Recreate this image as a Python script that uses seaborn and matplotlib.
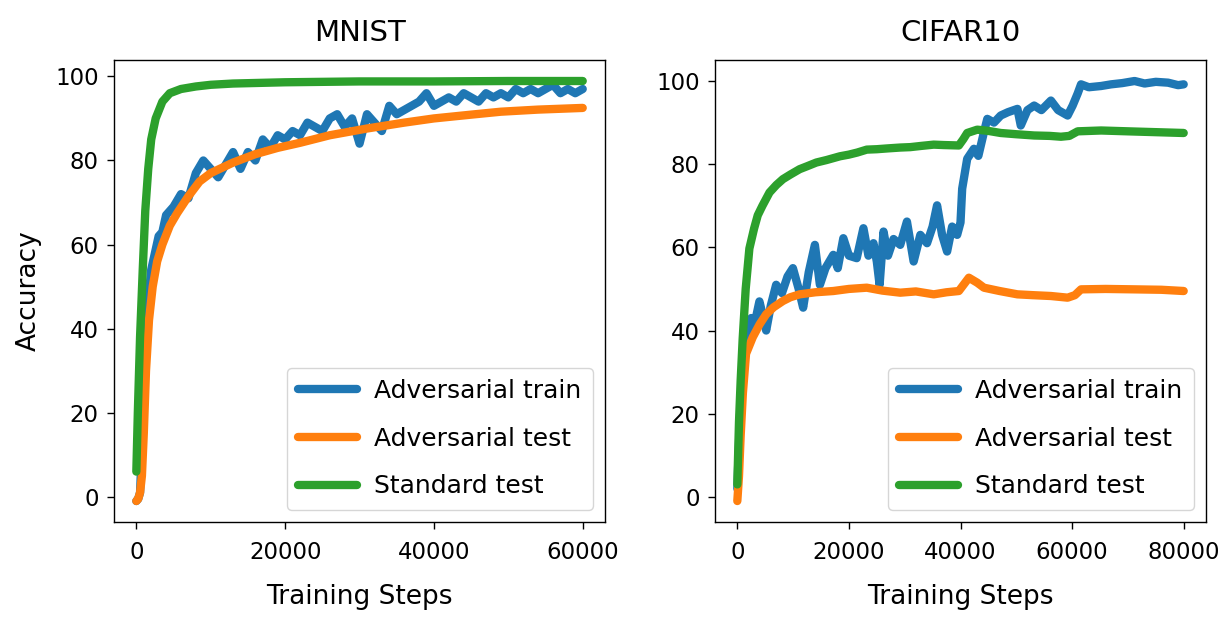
import matplotlib
matplotlib.use('Agg')
import matplotlib.pyplot as plt
import numpy as np
import pandas as pd
import seaborn as sns

# ---- MNIST curves ----
mnist_train_steps = [0, 250, 500, 750, 1000, 1500, 2000, 2500, 3000, 3500, 4000,
                     5000, 6000, 7000, 8000, 9000, 10000, 11000, 12000, 13000,
                     14000, 15000, 16000, 17000, 18000, 19000, 20000, 21000,
                     22000, 23000, 24000, 25000, 26000, 27000, 28000, 29000,
                     30000, 31000, 32000, 33000, 34000, 35000, 36000, 37000,
                     38000, 39000, 40000, 41000, 42000, 43000, 44000, 45000,
                     46000, 47000, 48000, 49000, 50000, 51000, 52000, 53000,
                     54000, 55000, 56000, 57000, 58000, 59000, 60000]
mnist_train_acc = [-1, -0.5, 1, 12, 28, 45, 54, 58, 62, 63, 67,
                   69, 72, 71, 77, 80, 78, 76, 79, 82,
                   78, 82, 80, 85, 83, 86, 85, 87,
                   86, 89, 88, 87, 90, 91, 88, 90,
                   84, 91, 89, 87, 93, 91, 92, 93,
                   94, 96, 93, 94, 95, 94, 96, 95,
                   94, 96, 95, 96, 95, 97, 96, 97,
                   96, 97, 98, 96, 97, 96, 97]

mnist_test_steps = [0, 250, 500, 750, 1000, 1300, 1700, 2200, 2800, 3500, 4500,
                    5500, 7000, 8500, 10000, 13000, 16000, 19000, 22000, 26000,
                    31000, 36000, 40000, 45000, 49000, 54000, 60000]
mnist_test_acc = [-1, -0.5, 1, 5, 15, 30, 42, 50, 56, 60, 64.5,
                  67.5, 71.5, 75, 77, 79.5, 81.5, 83, 84.2, 86,
                  87.6, 89, 90, 90.9, 91.6, 92.1, 92.5]

mnist_std_steps = [0, 200, 500, 860, 1200, 1600, 2000, 2600, 3500, 4500, 6000,
                   8000, 10000, 13000, 20000, 30000, 40000, 50000, 60000]
mnist_std_acc = [6, 20, 38, 54, 68, 78, 85, 90, 94, 96, 97,
                 97.6, 98, 98.3, 98.6, 98.8, 98.8, 98.9, 98.9]

# ---- CIFAR10 curves ----
cifar_train_steps = [0, 500, 1000, 1860, 2500, 3000, 3960, 4500, 5170, 6000,
                     6960, 8000, 9000, 9960, 11000, 11800, 12800, 13900, 14800,
                     15800, 17200, 18000, 19000, 20000, 21400, 22600, 23500,
                     24400, 25000, 25500, 26200, 27000, 28000, 29200, 30400,
                     31600, 32800, 34000, 35000, 35800, 36700, 37600, 38500,
                     39400, 40000, 40300, 41200, 42400, 43200, 44200, 44800,
                     46000, 47200, 48500, 50200, 50800, 52000, 53200, 54500,
                     56200, 57500, 59200, 60100, 61000, 61600, 63000, 65200,
                     67000, 69000, 71200, 73000, 75000, 77200, 79000, 80000]
cifar_train_acc = [2, 20, 33, 38.4, 43, 41, 47, 44, 40, 46,
                   51, 49, 53, 55, 50, 45.5, 54, 60.6, 51,
                   55, 58.2, 55, 62.2, 58, 57.4, 64.6, 58,
                   61, 56.6, 51, 63.8, 58, 62, 60.6, 66.2,
                   56.6, 63, 61, 65, 70.1, 63, 59, 65,
                   63, 66, 74.1, 81.3, 83.7, 82, 87.7, 90.9,
                   90, 91.7, 92.5, 93.3, 89.3, 93, 94.1, 93,
                   95.3, 93, 91.7, 94.1, 97, 99.2, 98.5, 98.8,
                   99.2, 99.5, 100, 99.4, 99.8, 99.6, 99, 99.2]

cifar_test_steps = [0, 300, 600, 1000, 1560, 2770, 4000, 5170, 6500, 8170,
                    9500, 11170, 14000, 17200, 20000, 23200, 26000, 29200,
                    32000, 35200, 37500, 39700, 41500, 43000, 44200, 47000,
                    50200, 53000, 56200, 59200, 60500, 61600, 66000, 71200,
                    76000, 80000]
cifar_test_acc = [-1, 5, 14.7, 25, 34.4, 38.4, 41.5, 43.9, 45.6, 47.1,
                  48, 48.7, 49.2, 49.5, 50, 50.3, 49.6, 49.1,
                  49.4, 48.7, 49.2, 49.5, 52.7, 51.5, 50.3, 49.5,
                  48.7, 48.5, 48.3, 47.9, 48.5, 49.9, 50, 49.9,
                  49.8, 49.5]

cifar_std_steps = [0, 300, 600, 960, 1500, 2160, 3000, 3660, 4500, 5770, 7000,
                   8170, 9500, 11170, 12500, 14170, 16000, 18400, 20000, 21500,
                   23200, 25000, 27000, 29200, 31000, 33000, 35200, 37000,
                   39700, 40500, 41200, 43000, 45000, 47200, 50000, 53200,
                   56000, 58000, 59500, 61000, 65200, 70000, 75000, 80000]
cifar_std_acc = [3, 18, 28, 38, 50, 59.7, 64.5, 67.7, 70, 73.2, 75,
                 76.4, 77.5, 78.8, 79.5, 80.4, 81, 81.9, 82.3, 82.8,
                 83.5, 83.6, 83.8, 84, 84.1, 84.4, 84.7, 84.6,
                 84.5, 86, 87.5, 88.3, 88, 87.5, 87.2, 86.9,
                 86.8, 86.6, 86.8, 87.9, 88.1, 87.9, 87.7, 87.5]

series_names = ['Adversarial train', 'Adversarial test', 'Standard test']
series_colors = ['#1f77b4', '#ff7f0e', '#2ca02c']


def make_frame(curves):
    parts = []
    for name, (steps, acc) in zip(series_names, curves):
        parts.append(pd.DataFrame({'step': steps, 'acc': acc, 'series': name}))
    return pd.concat(parts, ignore_index=True)


mnist_df = make_frame([(mnist_train_steps, mnist_train_acc),
                       (mnist_test_steps, mnist_test_acc),
                       (mnist_std_steps, mnist_std_acc)])
cifar_df = make_frame([(cifar_train_steps, cifar_train_acc),
                       (cifar_test_steps, cifar_test_acc),
                       (cifar_std_steps, cifar_std_acc)])

sns.set_style('ticks')
plt.rcParams['font.family'] = ['DejaVu Sans']
plt.rcParams['text.color'] = 'black'
plt.rcParams['axes.labelcolor'] = 'black'
plt.rcParams['axes.edgecolor'] = 'black'
plt.rcParams['axes.linewidth'] = 1.0
plt.rcParams['xtick.color'] = 'black'
plt.rcParams['ytick.color'] = 'black'
plt.rcParams['xtick.major.size'] = 5
plt.rcParams['ytick.major.size'] = 5


def plot_panel(ax, df, title, xticks):
    sns.lineplot(data=df, x='step', y='acc', hue='series',
                 hue_order=series_names, palette=series_colors,
                 linewidth=6, estimator=None, sort=False, ax=ax)
    ax.set_title(title, fontsize=21, pad=14)
    ax.set_xlabel('Training Steps', fontsize=19, labelpad=14)
    ax.set_ylabel('')
    ax.set_xticks(xticks)
    ax.set_yticks([0, 20, 40, 60, 80, 100])
    ax.tick_params(labelsize=16.5, width=1.0)
    ax.tick_params(axis='x', pad=9)
    ax.tick_params(axis='y', pad=6)
    leg = ax.legend(loc='lower right', fontsize=18, handlelength=2.35,
                    handletextpad=0.7, borderpad=0.45, labelspacing=0.95,
                    borderaxespad=0.5)
    for line in leg.get_lines():
        line.set_linewidth(6)
    return ax


fig = plt.figure(figsize=(12.3, 6.18), dpi=100)
ax1 = fig.add_axes([0.0927, 0.1553, 0.3992, 0.7476])
ax2 = fig.add_axes([0.5813, 0.1553, 0.3992, 0.7476])

plot_panel(ax1, mnist_df, 'MNIST', [0, 20000, 40000, 60000])
plot_panel(ax2, cifar_df, 'CIFAR10', [0, 20000, 40000, 60000, 80000])
ax1.set_ylabel('Accuracy', fontsize=19)
ax1.yaxis.set_label_coords(-0.147, 0.5)

fig.savefig('out.png', dpi=100)
